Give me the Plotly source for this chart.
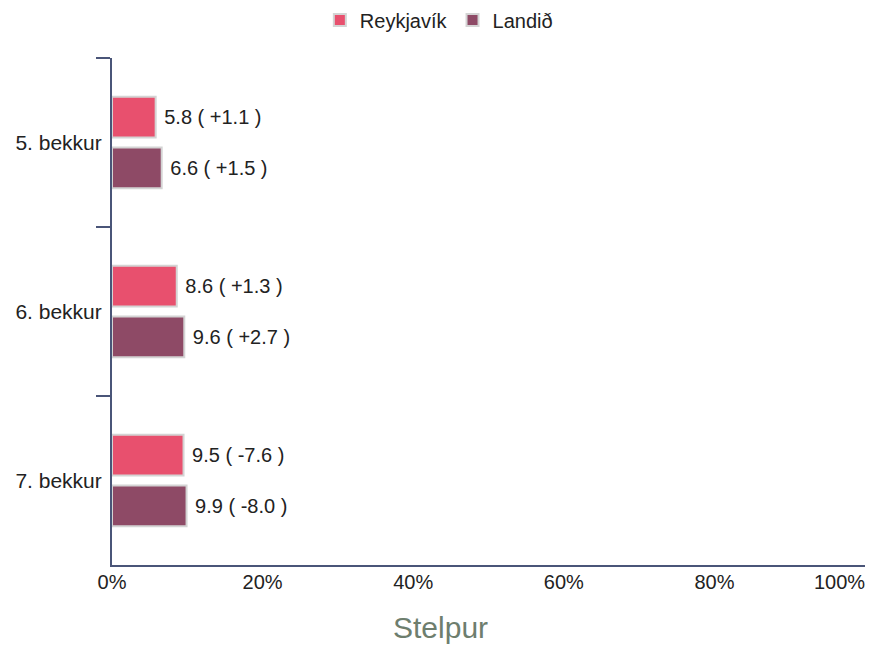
import plotly.graph_objects as go

categories = ["5. bekkur", "6. bekkur", "7. bekkur"]
reykjavik = [5.8, 8.6, 9.5]
reykjavik_change = ["+1.1", "+1.3", "-7.6"]
landid = [6.6, 9.6, 9.9]
landid_change = ["+1.5", "+2.7", "-8.0"]
tick_vals = [0, 20, 40, 60, 80, 100]
tick_text = ["0%", "20%", "40%", "60%", "80%", ""]
last_tick_label = "100%"
title_text = "Stelpur"

axis_color = "#4a5578"
font_family = "Liberation Sans, Arial, sans-serif"
FS = 20

fig = go.Figure()
fig.add_trace(go.Bar(
    name="Reykjavík", y=categories, x=reykjavik, orientation="h",
    marker=dict(color="#e8506e", line=dict(color="#d4d4d4", width=2)),
    text=[f"\u00a0{v} ( {c} )" for v, c in zip(reykjavik, reykjavik_change)],
    textposition="outside", cliponaxis=False,
    textfont=dict(size=FS, color="#222222", family=font_family),
))
fig.add_trace(go.Bar(
    name="Landið", y=categories, x=landid, orientation="h",
    marker=dict(color="#8e4a66", line=dict(color="#d4d4d4", width=2)),
    text=[f"\u00a0{v} ( {c} )" for v, c in zip(landid, landid_change)],
    textposition="outside", cliponaxis=False,
    textfont=dict(size=FS, color="#222222", family=font_family),
))

fig.update_layout(
    width=869, height=645,
    margin=dict(l=112, r=4, t=58, b=80, autoexpand=False),
    plot_bgcolor="white", paper_bgcolor="white",
    barmode="group", bargap=0.4, bargroupgap=0.2,
    font=dict(family=font_family, size=FS, color="#222222"),
    showlegend=True,
    legend=dict(orientation="h", x=0.505, xanchor="center", xref="container",
                y=0.969, yanchor="middle", yref="container",
                font=dict(size=FS), traceorder="normal"),
    xaxis=dict(range=[0, 100], tickvals=tick_vals, ticktext=tick_text,
               showgrid=False, zeroline=False, showline=True, linecolor=axis_color,
               linewidth=2, ticks="", ticklabelstandoff=-2,
               tickfont=dict(size=FS, color="#222222")),
    yaxis=dict(autorange="reversed", showgrid=False, zeroline=False, showline=True,
               linecolor=axis_color, linewidth=2, ticks="outside", ticklen=14,
               tickcolor=axis_color, tickwidth=1.5, tickson="boundaries",
               ticklabelstandoff=4,
               tickfont=dict(size=21, color="#222222")),
    annotations=[
        dict(text=last_tick_label, x=100, xref="x", y=0, yref="paper",
             xanchor="right", yanchor="top", yshift=-4, xshift=2, showarrow=False,
             font=dict(size=FS, color="#222222")),
        dict(text=title_text, x=0.4356, xref="paper", y=-0.124, yref="paper",
             xanchor="center", yanchor="middle", showarrow=False,
             font=dict(size=30, color="#6e7e6e")),
    ],
)

fig.write_html(
    "out.html",
    config={"displayModeBar": False},
    post_script="document.body.style.margin='0';document.body.style.overflow='hidden';",
)
